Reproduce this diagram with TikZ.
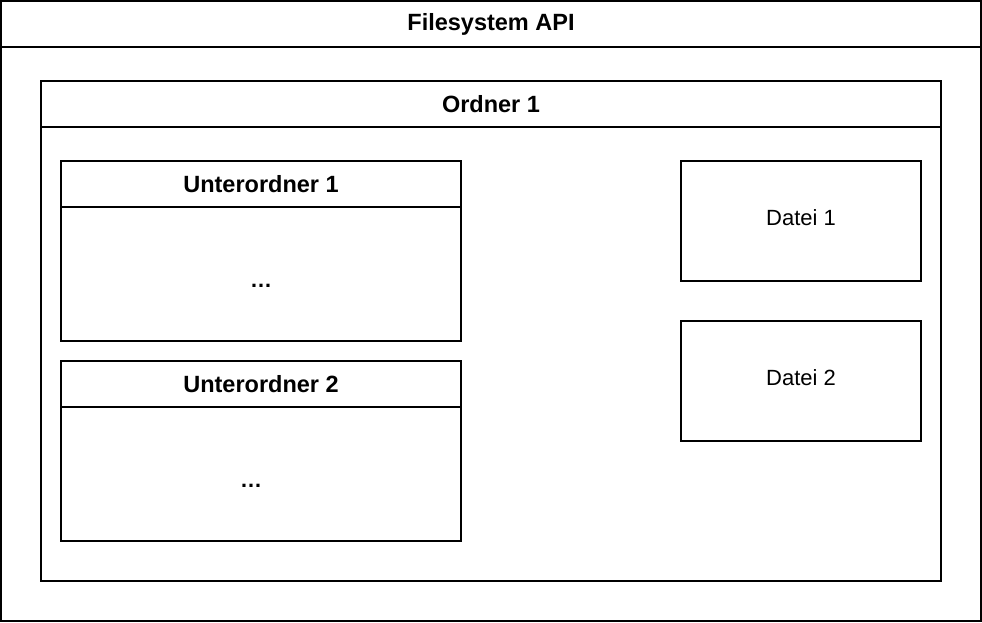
\documentclass[tikz,border=0pt]{standalone}
\usepackage{fontspec}
\setmainfont{Liberation Sans}
\usetikzlibrary{positioning}

\tikzset{
  frame/.style={draw, line width=2pt, inner sep=0pt, outer sep=0pt, anchor=north west},
  lanehead/.style={frame, minimum height=46pt, font=\fontsize{23.5}{28}\selectfont\bfseries},
  lanebody/.style={draw, line width=2pt, inner sep=0pt, outer sep=0pt, anchor=north},
  filebox/.style={frame, minimum width=240pt, minimum height=120pt, text height=16pt, text depth=8pt,
    font=\fontsize{22}{26}\selectfont},
  dots/.style={inner sep=0pt, font=\fontsize{22}{26}\selectfont\bfseries}
}

\begin{document}
\begin{tikzpicture}[x=1pt, y=-1pt]
  \useasboundingbox (0,0) rectangle (982,622);

  % Filesystem API
  \node[lanehead, minimum width=980pt] (fsHead) at (1,1) {Filesystem API};
  \node[lanebody, minimum width=980pt, minimum height=574pt] (fsBody) at (fsHead.south) {};

  % Ordner 1
  \node[lanehead, minimum width=900pt] (ordHead) at (41,81) {Ordner 1};
  \node[lanebody, minimum width=900pt, minimum height=454pt] (ordBody) at (ordHead.south) {};

  % Unterordner
  \node[lanehead, minimum width=400pt] (subHeadA) at (61,161) {Unterordner 1};
  \node[lanebody, minimum width=400pt, minimum height=134pt] (subBodyA) at (subHeadA.south) {};
  \node[dots] (dotsA) at (261,286) {…};

  \node[lanehead, minimum width=400pt] (subHeadB) at (61,361) {Unterordner 2};
  \node[lanebody, minimum width=400pt, minimum height=134pt] (subBodyB) at (subHeadB.south) {};
  \node[dots] (dotsB) at (251,486) {…};

  % Dateien
  \node[filebox] (fileA) at (681,161) {Datei 1};
  \node[filebox] (fileB) at (681,321) {Datei 2};
\end{tikzpicture}
\end{document}
